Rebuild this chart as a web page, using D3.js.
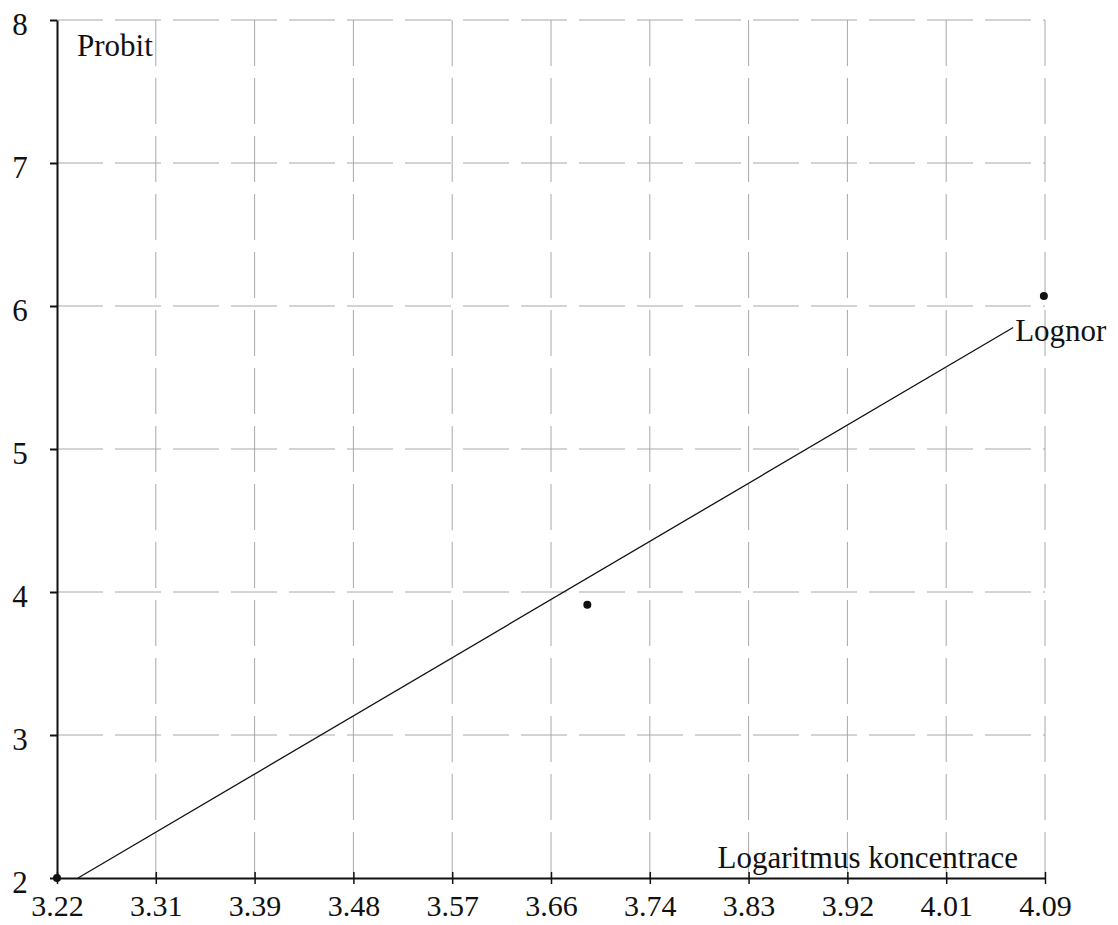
<!DOCTYPE html>
<html>
<head>
<meta charset="utf-8">
<script src="https://cdn.jsdelivr.net/npm/d3@7"></script>
<style>
  body { margin: 0; background: #fff; }
  text { font-family: "Liberation Serif", "DejaVu Serif", serif; fill: #111; }
</style>
</head>
<body>
<svg id="chart" width="1118" height="925"></svg>
<script>
// values
var xTickLabels = ["3.22", "3.31", "3.39", "3.48", "3.57", "3.66", "3.74", "3.83", "3.92", "4.01", "4.09"];
var xTicks = [3.22, 3.307, 3.394, 3.481, 3.568, 3.655, 3.742, 3.829, 3.916, 4.003, 4.09];
var yTicks = [2, 3, 4, 5, 6, 7, 8];
var pointX = [3.22, 3.687, 4.089];
var pointY = [2, 3.91, 6.07];
var fitX = [3.2385, 4.062];
var fitY = [2, 5.85];

var svg = d3.select("#chart"),
    margin = {top: 20, right: 73, bottom: 47, left: 57},
    width = +svg.attr("width") - margin.left - margin.right,
    height = +svg.attr("height") - margin.top - margin.bottom,
    g = svg.append("g").attr("transform", "translate(" + margin.left + "," + margin.top + ")");

var x = d3.scaleLinear().domain([3.22, 4.09]).range([0, width]);
var y = d3.scaleLinear().domain([2, 8]).range([height, 0]);

// dashed grid
g.append("g").selectAll("line")
  .data(xTicks.slice(1))
  .enter().append("line")
    .attr("x1", function(d) { return x(d); })
    .attr("x2", function(d) { return x(d); })
    .attr("y1", 0)
    .attr("y2", height)
    .attr("stroke", "#a8a8a8")
    .attr("stroke-width", 1)
    .attr("stroke-dasharray", "46,12");

g.append("g").selectAll("line")
  .data(yTicks.slice(1))
  .enter().append("line")
    .attr("x1", 0)
    .attr("x2", width)
    .attr("y1", function(d) { return y(d); })
    .attr("y2", function(d) { return y(d); })
    .attr("stroke", "#a8a8a8")
    .attr("stroke-width", 1)
    .attr("stroke-dasharray", "46,12");

// x axis
var xAxis = g.append("g")
    .attr("transform", "translate(0," + height + ")")
    .call(d3.axisBottom(x).tickValues(xTicks).tickSizeInner(6).tickSizeOuter(0)
      .tickFormat(function(d, i) { return xTickLabels[i]; }));
xAxis.select(".domain").attr("stroke", "#111").attr("stroke-width", 2);
xAxis.selectAll(".tick line").attr("y1", -6).attr("stroke", "#111").attr("stroke-width", 1.5);
xAxis.selectAll(".tick text")
    .attr("y", 38).attr("dy", 0)
    .attr("font-size", 30);

// y axis
var yAxis = g.append("g")
    .call(d3.axisLeft(y).tickValues(yTicks).tickSizeInner(7).tickSizeOuter(0)
      .tickFormat(d3.format("d")));
yAxis.select(".domain").attr("stroke", "#111").attr("stroke-width", 2);
yAxis.selectAll(".tick line").attr("stroke", "#111").attr("stroke-width", 2);
yAxis.selectAll(".tick text")
    .attr("x", -37).attr("dy", 14)
    .attr("text-anchor", "middle")
    .attr("font-size", 31);

// fitted line
g.append("line")
    .attr("x1", x(fitX[0])).attr("y1", y(fitY[0]))
    .attr("x2", x(fitX[1])).attr("y2", y(fitY[1]))
    .attr("stroke", "#111")
    .attr("stroke-width", 1.3);

// observed points
g.append("g").selectAll("circle")
  .data(d3.range(pointX.length))
  .enter().append("circle")
    .attr("cx", function(i) { return x(pointX[i]); })
    .attr("cy", function(i) { return y(pointY[i]); })
    .attr("r", 4)
    .attr("fill", "#111");

// labels
g.append("text")
    .attr("x", x(fitX[1]) + 2)
    .attr("y", y(fitY[1]) + 14)
    .attr("font-size", 31)
    .text("Lognor");

g.append("text")
    .attr("x", 20)
    .attr("y", 36)
    .attr("font-size", 31)
    .text("Probit");

g.append("text")
    .attr("x", 961)
    .attr("y", height - 10)
    .attr("text-anchor", "end")
    .attr("font-size", 31)
    .text("Logaritmus koncentrace");
</script>
</body>
</html>
